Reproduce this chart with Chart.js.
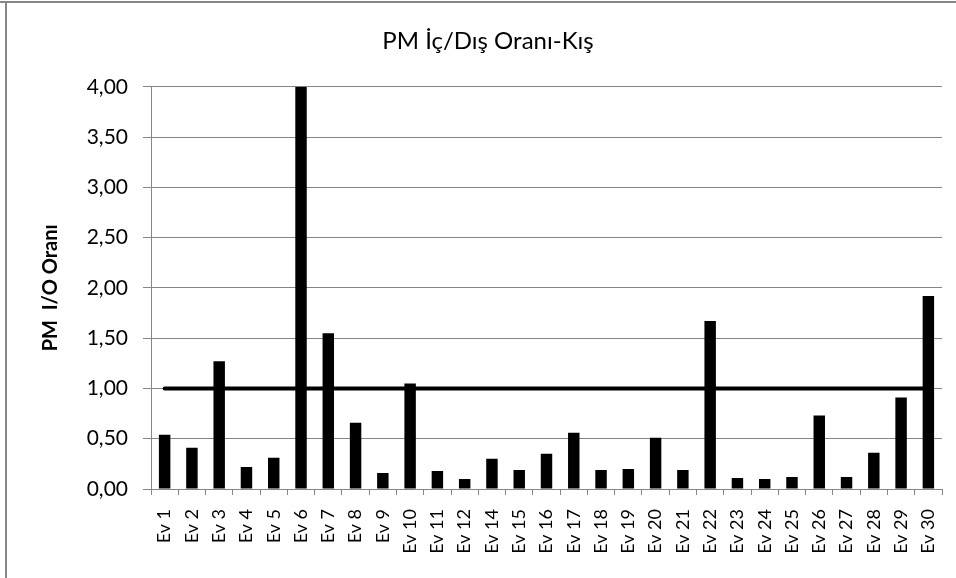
<!DOCTYPE html>
<html>
<head>
<meta charset="utf-8">
<script src="https://cdn.jsdelivr.net/npm/chart.js@4"></script>
<style>
  html, body { margin: 0; padding: 0; background: #fff; }
  canvas { display: block; }
</style>
</head>
<body>
<canvas id="c" width="956" height="578"></canvas>
<script>
const categories = ["Ev 1","Ev 2","Ev 3","Ev 4","Ev 5","Ev 6","Ev 7","Ev 8","Ev 9","Ev 10","Ev 11","Ev 12","Ev 14","Ev 15","Ev 16","Ev 17","Ev 18","Ev 19","Ev 20","Ev 21","Ev 22","Ev 23","Ev 24","Ev 25","Ev 26","Ev 27","Ev 28","Ev 29","Ev 30"];
const ratioValues = [0.54,0.41,1.27,0.22,0.31,4.00,1.55,0.66,0.16,1.05,0.18,0.10,0.30,0.19,0.35,0.56,0.19,0.20,0.51,0.19,1.67,0.11,0.10,0.12,0.73,0.12,0.36,0.91,1.92];
const referenceLine = [1.00,1.00,1.00,1.00,1.00,1.00,1.00,1.00,1.00,1.00,1.00,1.00,1.00,1.00,1.00,1.00,1.00,1.00,1.00,1.00,1.00,1.00,1.00,1.00,1.00,1.00,1.00,1.00,1.00];
const yTickLabels = ["0,00","0,50","1,00","1,50","2,00","2,50","3,00","3,50","4,00"];
const chartTitle = "PM İç/Dış Oranı-Kış";
const yAxisTitle = "PM  I/O Oranı";

const frame = {
  id: 'frame',
  beforeDraw(chart) {
    const ctx = chart.ctx;
    ctx.save();
    ctx.fillStyle = '#ffffff';
    ctx.fillRect(0, 0, chart.width, chart.height);
    ctx.fillStyle = '#878787';
    ctx.fillRect(0, 1, chart.width, 2);
    ctx.fillRect(5, 1, 2, chart.height);
    ctx.restore();
  }
};

const gridColor = '#868686';

new Chart(document.getElementById('c'), {
  data: {
    labels: categories,
    datasets: [
      {
        type: 'line',
        data: referenceLine,
        borderColor: '#000000',
        borderWidth: 4,
        borderCapStyle: 'round',
        pointRadius: 0,
        fill: false,
        order: 0
      },
      {
        type: 'bar',
        data: ratioValues,
        backgroundColor: '#000000',
        borderWidth: 0,
        categoryPercentage: 1.0,
        barPercentage: 0.42,
        order: 1
      }
    ]
  },
  options: {
    responsive: false,
    animation: false,
    devicePixelRatio: 1,
    layout: { padding: { left: 34, right: 14, top: 0, bottom: 0 } },
    plugins: {
      legend: { display: false },
      tooltip: { enabled: false },
      title: {
        display: true,
        text: chartTitle,
        color: '#000000',
        font: { family: 'Lato', size: 24, weight: 'normal', lineHeight: 1.2 },
        padding: { top: 27, bottom: 31 }
      }
    },
    scales: {
      x: {
        type: 'category',
        offset: true,
        grid: {
          offset: true,
          drawOnChartArea: false,
          drawTicks: true,
          tickLength: 6,
          color: gridColor,
          lineWidth: 1
        },
        border: { display: true, color: gridColor, width: 1 },
        ticks: {
          color: '#000000',
          font: { family: 'Lato', size: 18 },
          minRotation: 90,
          maxRotation: 90,
          autoSkip: false,
          padding: 14
        },
        afterFit(scale) {
          scale.height = 89;
          scale.paddingLeft = 0;
          scale.paddingRight = 0;
        }
      },
      y: {
        min: 0,
        max: 4,
        ticks: {
          stepSize: 0.5,
          color: '#000000',
          font: { family: 'Lato', size: 21 },
          padding: 15,
          callback: (v, i) => yTickLabels[i]
        },
        grid: {
          color: gridColor,
          lineWidth: 1,
          drawTicks: true,
          tickLength: 8
        },
        border: { display: true, color: gridColor, width: 1 },
        title: {
          display: true,
          text: yAxisTitle,
          color: '#000000',
          font: { family: 'Lato', size: 20, weight: 'bold', lineHeight: 1.2 },
          padding: { top: 5, bottom: 0 }
        },
        afterFit(scale) { scale.width = 117; }
      }
    }
  },
  plugins: [frame]
});
</script>
</body>
</html>
